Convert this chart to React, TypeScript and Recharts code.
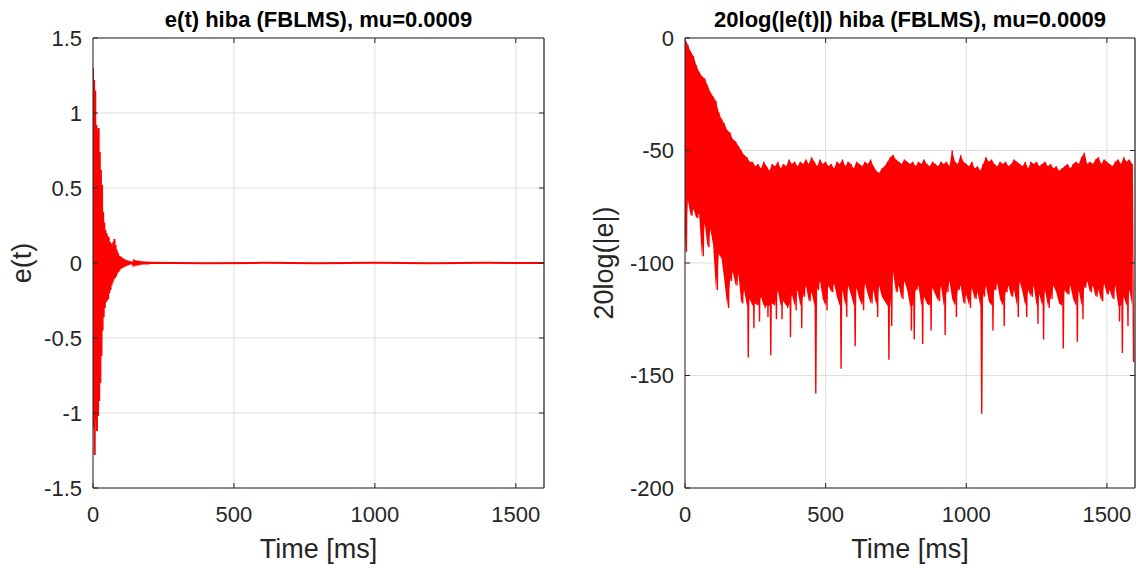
import React from 'react';
import { ComposedChart, Line, Area, XAxis, YAxis, CartesianGrid, ReferenceLine } from 'recharts';

const timeTicks = [0, 500, 1000, 1500];
const errTicks = [-1.5, -1, -0.5, 0, 0.5, 1, 1.5];
const dbTicks = [-200, -150, -100, -50, 0];

// e(t), one sample every 2 ms for the first 200 ms
const errStart = [
  1.3, -1.1, 1.22, -1.28, 1.15, -1.05, 0.92, -1.12, 0.88, -1.02,
  0.9, -0.92, 0.74, -0.8, 0.62, -0.62, 0.52, -0.45, 0.34, -0.36,
  0.27, -0.3, 0.22, -0.26, 0.2, -0.25, 0.18, -0.24, 0.17, -0.2,
  0.14, -0.18, 0.13, -0.15, 0.11, -0.13, 0.14, -0.11, 0.16, -0.1,
  0.12, -0.09, 0.09, -0.07, 0.07, -0.06, 0.05, -0.05, 0.045, -0.04,
  0.04, -0.035, 0.035, -0.03, 0.03, -0.028, 0.025, -0.022, 0.02, -0.02,
  0.018, -0.016, 0.015, -0.013, 0.012, -0.011, 0.01, -0.009, 0.009, -0.008,
  0.008, -0.007, 0.007, -0.006, 0.006, -0.005, 0.005, -0.005, 0.004, -0.004,
  0.004, -0.004, 0.004, -0.003, 0.003, -0.003, 0.003, -0.003, 0.003, -0.002,
  0.002, -0.002, 0.002, -0.002, 0.002, -0.002, 0.002, -0.002, 0.002, -0.002,
];
const errTailTimes = [200, 400, 600, 800, 1000, 1200, 1400, 1600];
const errTailValues = [0.002, -0.001, 0.001, -0.001, 0.001, -0.001, 0.001, 0];

// 20log|e|: upper peaks at t = 0, 10, 20 ... and dips at t = 5, 15, 25 ...
const dbPeaks = [
  0, -3, -6, -8, -12, -15, -17, -18, -21, -24,
  -26, -28, -33, -36, -38, -41, -42, -45, -46, -48,
  -50, -52, -53, -55, -55, -57, -56, -58, -55, -57,
  -59, -56, -57, -55, -58, -56, -57, -54, -56, -55,
  -57, -55, -56, -54, -56, -53, -55, -57, -54, -56,
  -55, -57, -56, -58, -55, -56, -54, -57, -55, -56,
  -58, -55, -56, -57, -55, -56, -54, -57, -59, -60,
  -58, -57, -55, -53, -52, -54, -55, -56, -54, -55,
  -56, -55, -57, -55, -56, -54, -56, -57, -55, -56,
  -57, -55, -56, -55, -57, -50, -55, -56, -52, -55,
  -56, -57, -55, -58, -57, -59, -56, -53, -55, -54,
  -56, -57, -55, -56, -55, -57, -56, -54, -55, -56,
  -57, -55, -58, -55, -56, -55, -57, -56, -55, -57,
  -56, -58, -57, -59, -58, -57, -56, -58, -56, -55,
  -56, -53, -51, -56, -55, -56, -54, -53, -56, -54,
  -55, -56, -57, -55, -54, -56, -53, -55, -54, -56,
];
const dbDips = [
  -95, -72, -79, -76, -80, -78, -97, -82, -93, -85,
  -92, -112, -96, -98, -108, -120, -108, -104, -110, -105,
  -118, -112, -142, -116, -129, -118, -126, -115, -120, -124,
  -141, -118, -125, -112, -125, -117, -120, -133, -114, -121,
  -112, -129, -115, -110, -117, -113, -158, -112, -108, -116,
  -121, -110, -113, -109, -115, -147, -112, -124, -110, -114,
  -137, -111, -116, -121, -109, -114, -118, -112, -124, -110,
  -115, -117, -143, -128, -104, -113, -110, -116, -108, -112,
  -130, -134, -112, -110, -136, -115, -118, -130, -111, -114,
  -117, -110, -132, -113, -108, -116, -124, -112, -110, -118,
  -114, -120, -111, -116, -113, -167, -115, -110, -117, -130,
  -112, -109, -116, -128, -113, -110, -115, -112, -124, -108,
  -113, -124, -112, -115, -110, -127, -114, -134, -112, -120,
  -116, -110, -113, -118, -138, -112, -114, -110, -116, -135,
  -112, -125, -111, -108, -113, -110, -115, -112, -117, -109,
  -114, -112, -116, -110, -126, -140, -115, -128, -112, -144,
];

type Pt = { t: number; v?: number; band?: [number, number] };

const errData: Pt[] = [
  ...errStart.map((v, i) => ({ t: i * 2, v })),
  ...errTailTimes.map((t, i) => ({ t, v: errTailValues[i] })),
];
const dbData: Pt[] = dbPeaks.flatMap((hi, i) => [
  { t: i * 10, v: hi },
  { t: i * 10 + 5, v: dbDips[i] },
]);
// solid core of the noise: from each peak down to its dip, capped where the isolated spikes start
const dbBand: Pt[] = dbPeaks.map((hi, i) => ({ t: i * 10, band: [Math.max(dbDips[i], -119), hi] }));

const FONT = '"Liberation Sans", Arial, Helvetica, sans-serif';
const AXIS = '#262626';
const RED = '#ff0000';
const tickStyle = { fill: AXIS, fontSize: 22, fontFamily: FONT };
const X_MAX = 1600;

type PanelProps = {
  data: Pt[];
  band?: Pt[];
  yDomain: [number, number];
  yTicks: number[];
  left: number;
  width: number;
  right: number;
  lineWidth: number;
};

function Panel({ data, band, yDomain, yTicks, left, width, right, lineWidth }: PanelProps) {
  const [yMin, yMax] = yDomain;
  // inward tick length on the top / right box edges (about 5px)
  const dy = ((yMax - yMin) * 5) / 450;
  const dx = (X_MAX * 5) / 450;
  return (
    <div style={{ position: 'absolute', left, top: 0 }}>
      <ComposedChart width={width} height={569} margin={{ top: 38, right, bottom: 0, left: 0 }}>
        <CartesianGrid stroke="#dedede" strokeWidth={1} />
        <XAxis dataKey="t" type="number" domain={[0, X_MAX]} ticks={timeTicks} height={81} stroke={AXIS} tickSize={-5} tickMargin={23} tick={tickStyle} interval={0} allowDataOverflow />
        <YAxis type="number" domain={yDomain} ticks={yTicks} width={93} stroke={AXIS} tickSize={-5} tickMargin={16} tick={tickStyle} interval={0} allowDataOverflow />
        {band && (
          <Area data={band} dataKey="band" type="linear" stroke="none" fill={RED} fillOpacity={1} dot={false} activeDot={false} isAnimationActive={false} />
        )}
        <Line data={data} dataKey="v" type="linear" stroke={RED} strokeWidth={lineWidth} dot={false} activeDot={false} isAnimationActive={false} />
        <ReferenceLine y={yMax} stroke={AXIS} strokeWidth={1.2} ifOverflow="visible" />
        <ReferenceLine x={X_MAX} stroke={AXIS} strokeWidth={1.2} ifOverflow="visible" />
        {timeTicks.slice(1).map((t) => (
          <ReferenceLine key={`tt${t}`} segment={[{ x: t, y: yMax }, { x: t, y: yMax - dy }]} stroke={AXIS} ifOverflow="visible" />
        ))}
        {yTicks.slice(1, -1).map((v) => (
          <ReferenceLine key={`rt${v}`} segment={[{ x: X_MAX, y: v }, { x: X_MAX - dx, y: v }]} stroke={AXIS} ifOverflow="visible" />
        ))}
      </ComposedChart>
    </div>
  );
}

export default function App() {
  return (
    <div style={{ position: 'absolute', left: 0, top: 0, width: 1143, height: 569, background: '#fff', fontFamily: FONT }}>
      <Panel data={errData} yDomain={[-1.5, 1.5]} yTicks={errTicks} left={0} width={560} right={16} lineWidth={2} />
      <Panel data={dbData} band={dbBand} yDomain={[-200, 0]} yTicks={dbTicks} left={592} width={551} right={8} lineWidth={1.4} />
      <svg width={1143} height={569} style={{ position: 'absolute', left: 0, top: 0, pointerEvents: 'none' }} fontFamily={FONT}>
        <text x={318.6} y={27} textAnchor="middle" fontSize={22} fontWeight="bold" fill="#000">e(t) hiba (FBLMS), mu=0.0009</text>
        <text x={910} y={27} textAnchor="middle" fontSize={22} fontWeight="bold" fill="#000">20log(|e(t)|) hiba (FBLMS), mu=0.0009</text>
        <text x={318.6} y={558} textAnchor="middle" fontSize={27} fill={AXIS}>Time [ms]</text>
        <text x={910} y={558} textAnchor="middle" fontSize={27} fill={AXIS}>Time [ms]</text>
        <text transform="translate(31,263) rotate(-90)" textAnchor="middle" fontSize={27} fill={AXIS}>e(t)</text>
        <text transform="translate(613,263) rotate(-90)" textAnchor="middle" fontSize={27} fill={AXIS}>20log(|e|)</text>
      </svg>
    </div>
  );
}
